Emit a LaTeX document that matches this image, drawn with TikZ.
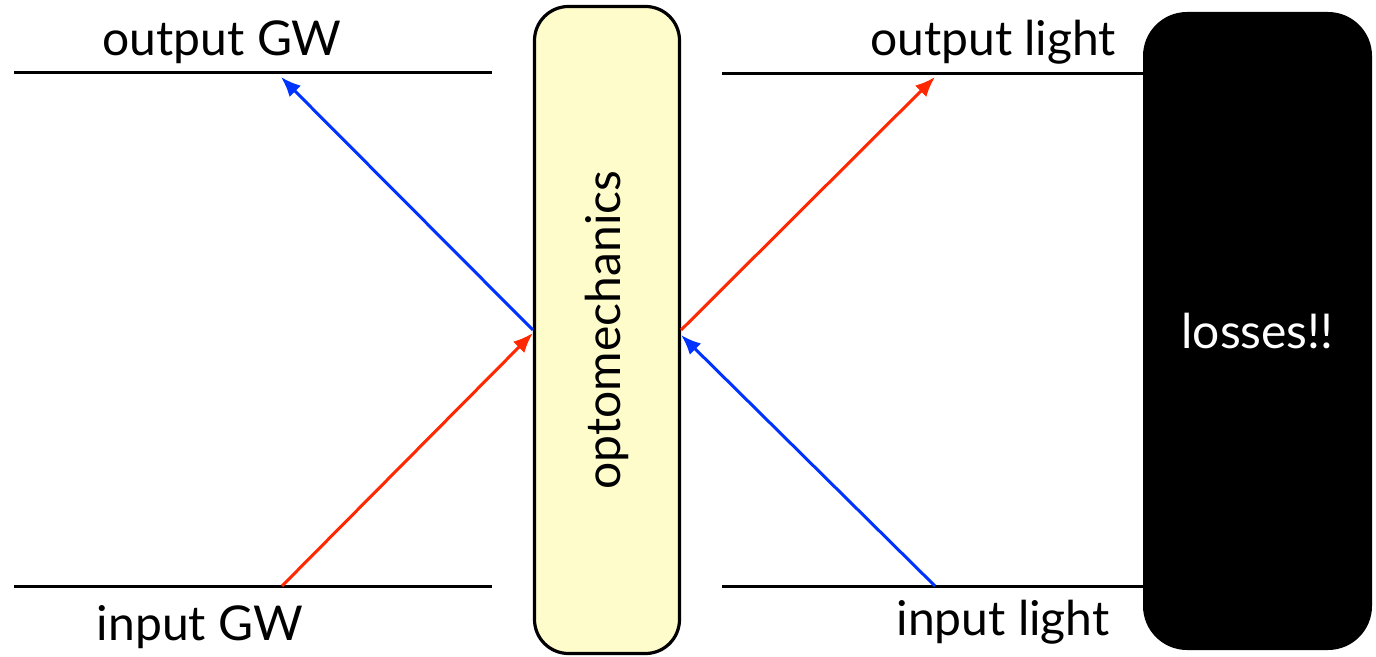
\documentclass[tikz,border=0pt]{standalone}
\usepackage{fontspec}
\setmainfont{Lato}
\usetikzlibrary{arrows.meta,calc}
\definecolor{sigblue}{RGB}{0,51,255}
\definecolor{sigred}{RGB}{255,40,0}
\definecolor{omyellow}{RGB}{255,252,204}
\tikzset{port/.style={line width=1.5pt},sig/.style={line width=1.5pt,-{Latex[length=10pt,width=8pt]}},lab/.style={font=\fontsize{24}{28}\selectfont,inner sep=0}}

\begin{document}
\begin{tikzpicture}[x=0.5pt,y=-0.5pt]
\useasboundingbox(0,0)rectangle(1376,657);
\node[draw,line width=1.6pt,fill=omyellow,rounded corners=17pt,minimum width=72.5pt,minimum height=323.5pt,inner sep=0](om)at(607,330){};
\node[rotate=90,lab](omtxt)at(om.center){optomechanics};
\node[fill=black,rounded corners=22pt,minimum width=114.5pt,minimum height=319pt,inner sep=0](loss)at(1257.5,331){};
\node[lab,text=white](losstxt)at(loss.center){losses!!};
\coordinate(gwol)at(14,73);\coordinate(gwor)at(492,73);\coordinate(gwil)at(14,586);\coordinate(gwir)at(492,586);
\coordinate(ltol)at(722,74);\coordinate(ltil)at(722,586);
\draw[port](gwol)--(gwor);\draw[port](gwil)--(gwir);
\draw[port](ltol)--(ltol-|loss.west);\draw[port](ltil)--(ltil-|loss.west);
\node[lab](outgw)at(222,42){output GW};\node[lab](ingw)at(200,627){input GW};
\node[lab](outlt)at(993,42){output light};\node[lab](inlt)at(1003,622){input light};
\coordinate(gwo)at(281,77);\coordinate(gwi)at(282,586);\coordinate(lto)at(935,77);\coordinate(lti)at(935,586);
\draw[sig,sigblue](om.west)--(gwo);\draw[sig,sigred](gwi)--($(om.west)+(0,3)$);
\draw[sig,sigred](om.east)--(lto);\draw[sig,sigblue](lti)--($(om.east)+(0,5)$);
\end{tikzpicture}
\end{document}
